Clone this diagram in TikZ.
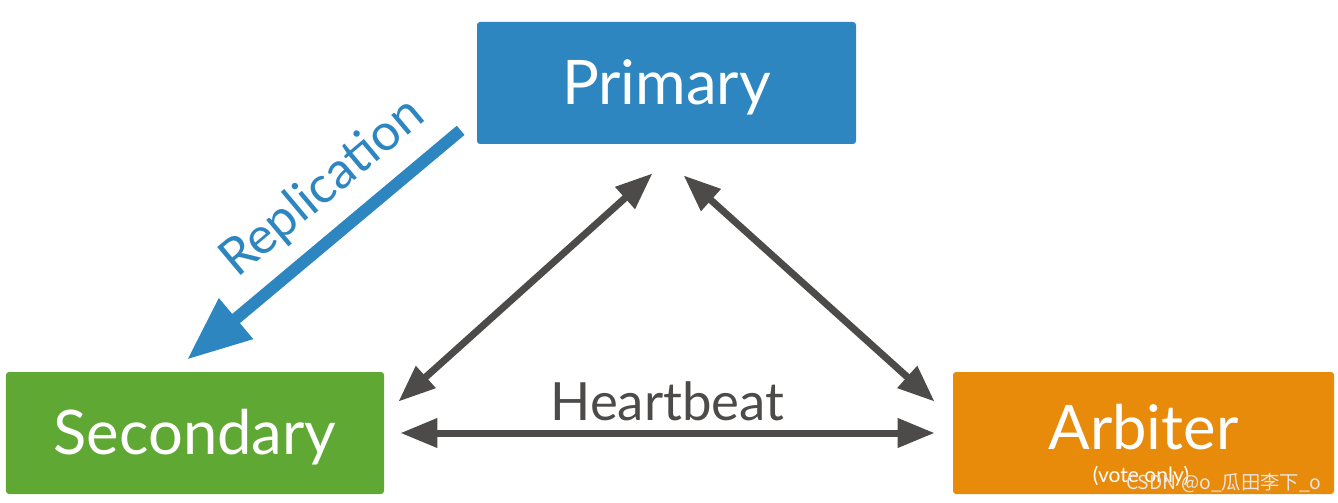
\documentclass[tikz,border=0pt]{standalone}
\usepackage{fontspec}
\setmainfont{Lato}
\newfontfamily\cjkfont{Noto Sans CJK SC}
\usetikzlibrary{arrows.meta,positioning}
\definecolor{primblue}{HTML}{2E86C1}
\definecolor{secgreen}{HTML}{5FA833}
\definecolor{arborange}{HTML}{E88A0A}
\definecolor{beatgray}{HTML}{4D4B49}

\begin{document}
\begin{tikzpicture}[
  role/.style={rounded corners=0.06cm,minimum height=2.44cm,text=white,font=\fontsize{35}{40}\selectfont,text height=25pt,text depth=0pt},
  beat/.style={line width=0.14cm,draw=beatgray,{Triangle[length=0.74cm,width=0.56cm]}-{Triangle[length=0.74cm,width=0.56cm]}},
  repl/.style={line width=0.24cm,draw=primblue,-{Triangle[length=1.28cm,width=1cm]}}]
\useasboundingbox (0,0) rectangle (26.76,10.04);
\node[role,fill=primblue,minimum width=7.58cm] (prim) at (13.33,8.38) {Primary};
\node[role,fill=secgreen,minimum width=7.56cm] (sec) at (3.9,1.38) {Secondary};
\node[role,fill=arborange,minimum width=7.62cm,text depth=5.7pt] (arb) at (22.87,1.38) {Arbiter};
\node[text=white,font=\fontsize{12}{14}\selectfont,anchor=base,inner sep=0] (vote) at ([xshift=-0.05cm,yshift=0.24cm]arb.south) {(vote only)};
\node[text=white!80!gray,font=\cjkfont\fontsize{11}{13}\selectfont,anchor=base east,inner sep=0] (mark) at (26.44,0.26) {CSDN @o\_瓜田李下\_o};
\draw[repl] ([xshift=-0.32cm,yshift=0.28cm]prim.south west) -- ([xshift=-0.16cm,yshift=0.24cm]sec.north)
  node[pos=0.4,sloped,above=0.3cm,inner sep=0,text=primblue,font=\fontsize{29}{34}\selectfont] (repltext) {Replication};
\draw[beat] ([xshift=-0.28cm,yshift=-0.58cm]prim.south) -- ([xshift=0.28cm,yshift=-0.6cm]sec.north east);
\draw[beat] ([xshift=0.34cm,yshift=-0.62cm]prim.south) -- ([xshift=-0.36cm,yshift=-0.6cm]arb.north west);
\draw[beat] ([xshift=0.32cm]sec.east) -- ([xshift=-0.36cm]arb.west)
  node[midway,above=0.18cm,inner sep=0,text=beatgray,font=\fontsize{30}{36}\selectfont] (hb) {Heartbeat};
\end{tikzpicture}
\end{document}
